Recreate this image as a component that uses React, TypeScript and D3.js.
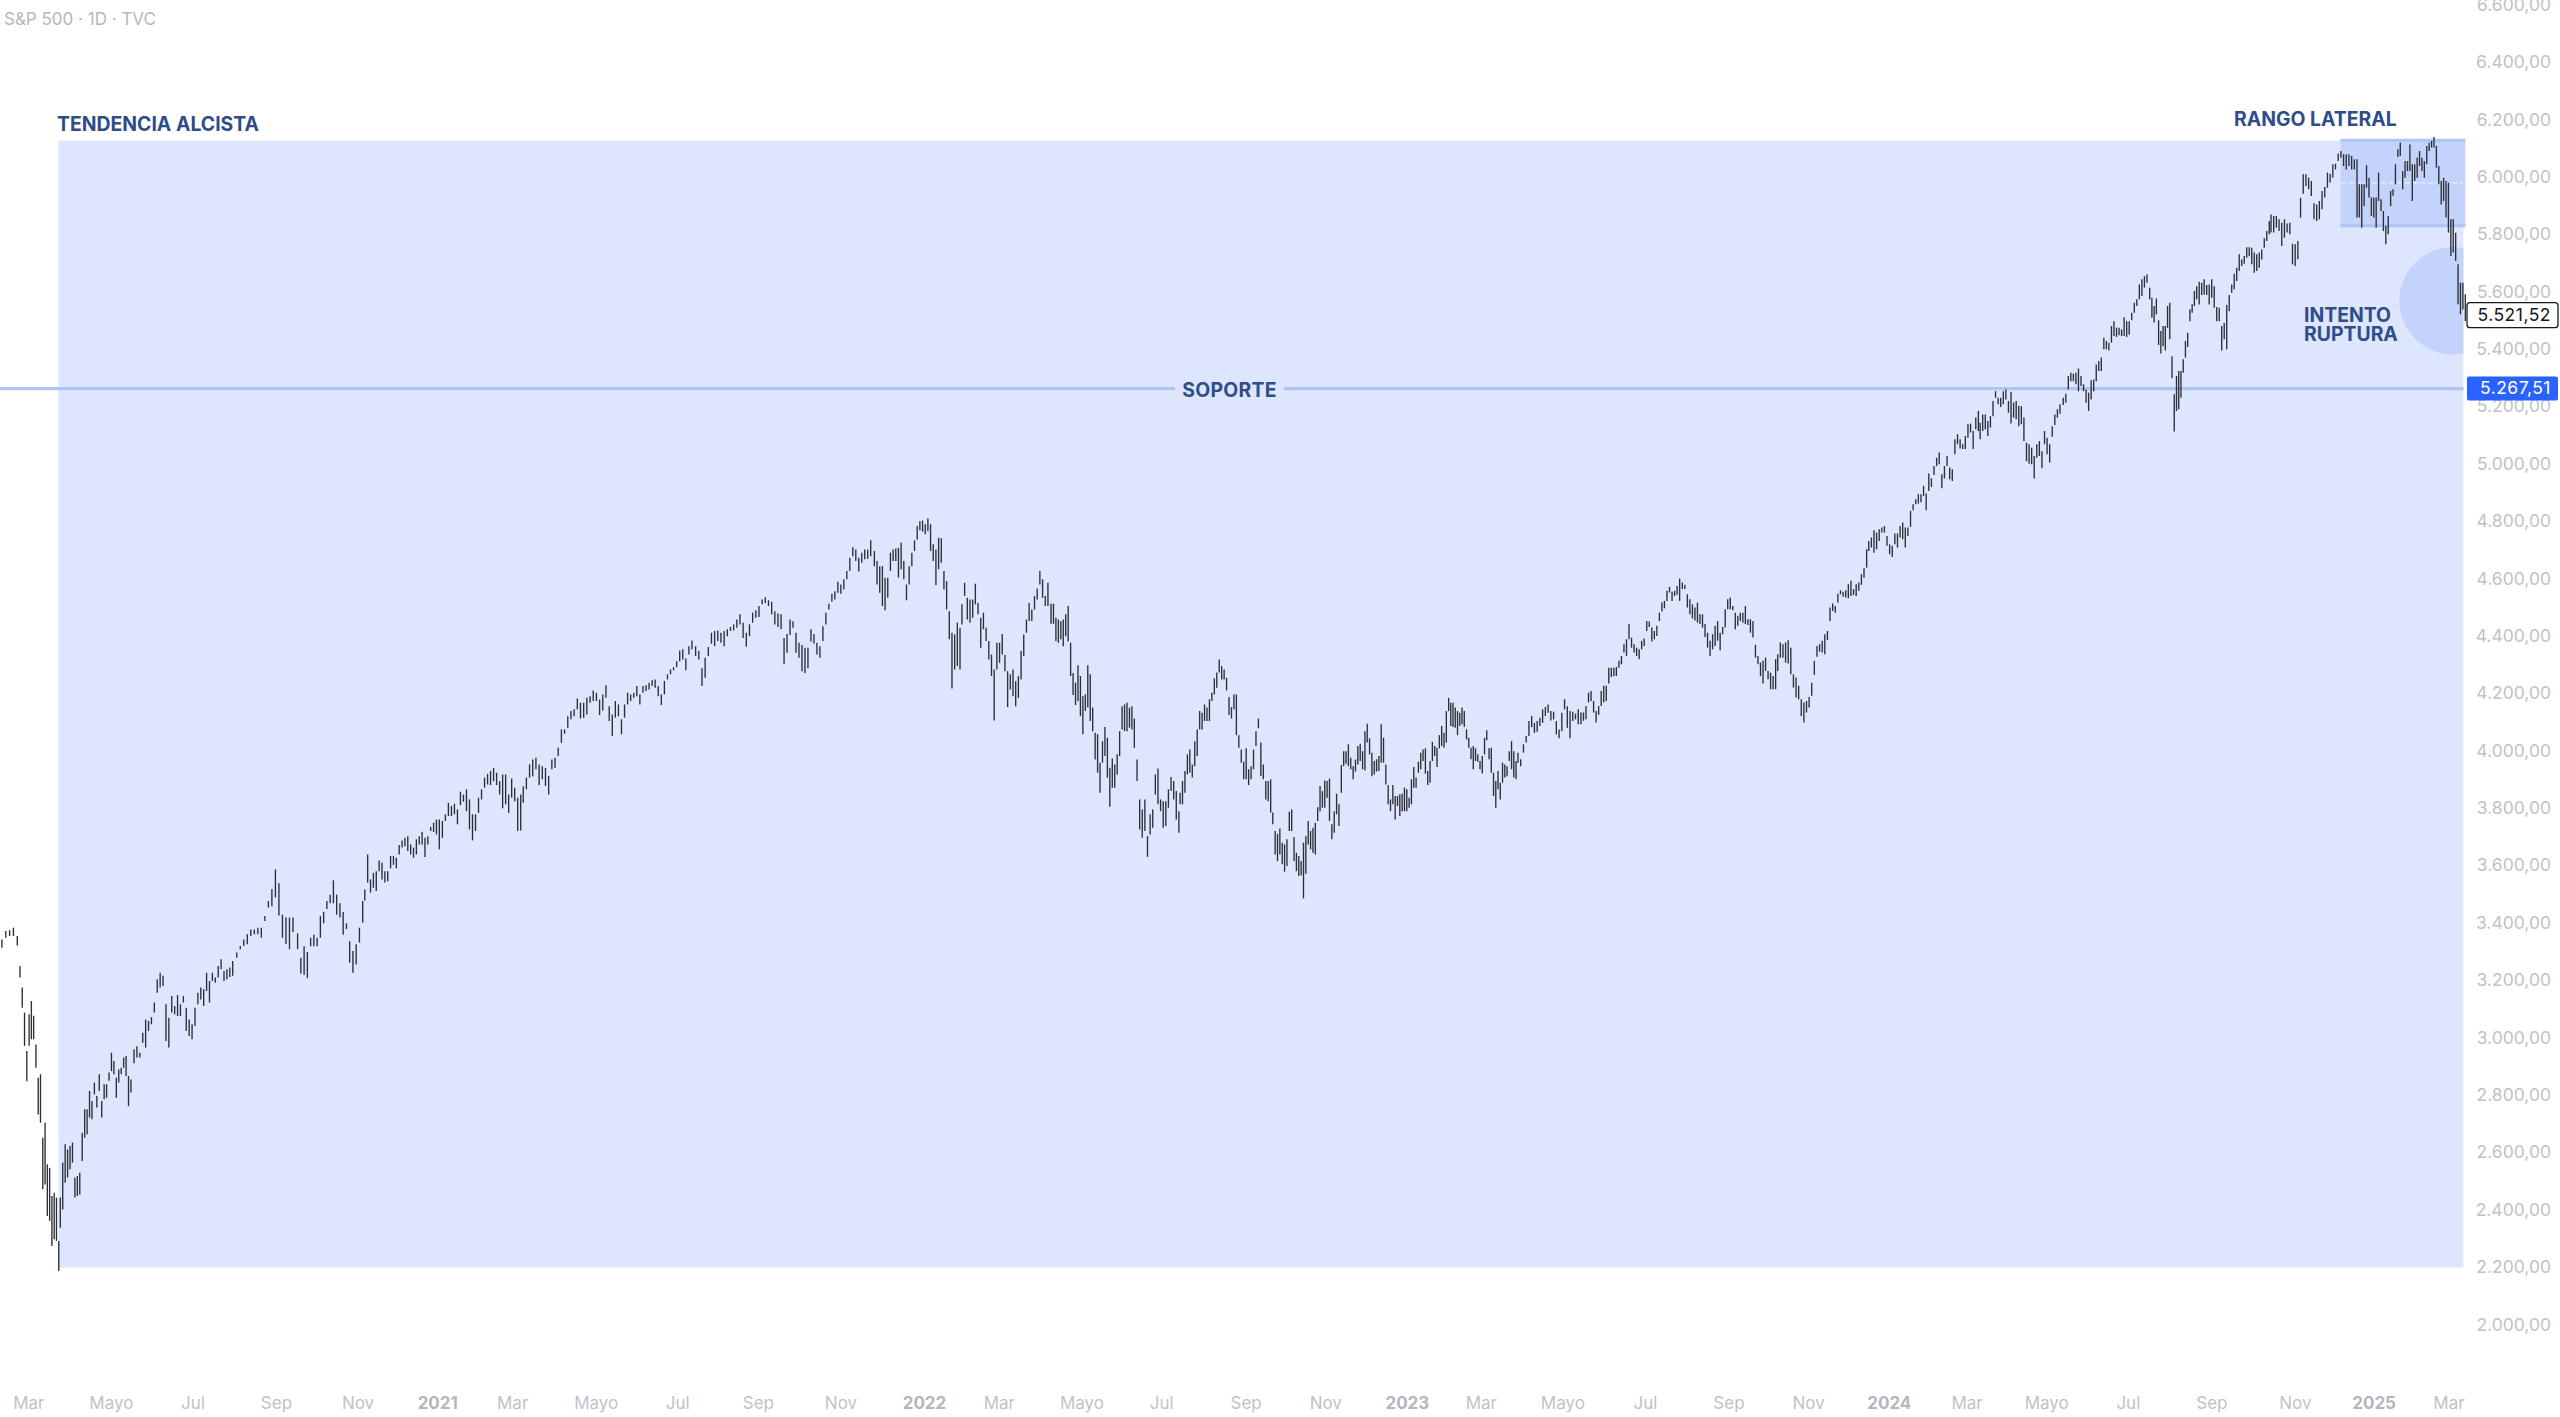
import * as d3 from "d3";

type Bar = [number, number]; // high, low

// ── Price bars ─────────────────────────────────────────────

const feb2020: Bar[] = [[3344,3315],[3373,3350],[3376,3356],[3385,3356],[3356,3323]];
const febMar2020: Bar[] = [[3251,3211],[3176,3106],[3089,2973],[2955,2850],[3083,2973],[3129,2996],[3078,2996],[2978,2897],[2862,2734],[2874,2705],[2653,2473],[2705,2490],[2560,2380],[2548,2363],[2450,2275],[2461,2299],[2444,2293],[2293,2188]];
const aprJun2020: Bar[] = [[2444,2339],[2566,2403],[2630,2496],[2612,2514],[2624,2543],[2636,2566],[2513,2444],[2519,2450],[2531,2455],[2670,2572],[2752,2653],[2752,2665],[2816,2723],[2781,2717],[2845,2804],[2798,2758],[2874,2816],[2781,2723],[2839,2787],[2839,2792],[2880,2851],[2949,2885],[2920,2874],[2862,2792],[2891,2845],[2897,2874],[2932,2897],[2938,2868],[2868,2763],[2856,2810]];
const junAug2020: Bar[] = [[2961,2912],[2972,2932],[2949,2932],[3019,2984],[3065,2967],[3060,3025],[3073,3048],[3124,3089],[3205,3158],[3228,3176],[3217,3182],[3118,2990],[3071,2967],[3147,3089],[3112,3083],[3150,3077],[3118,3077],[3147,3124],[3106,3025],[3065,3007],[3048,2996],[3106,3042],[3158,3118],[3176,3135],[3170,3112],[3228,3164],[3199,3124],[3228,3199],[3211,3193],[3251,3211],[3275,3240],[3234,3199],[3240,3205],[3246,3213],[3269,3217]];
const augSep2020: Bar[] = [[3298,3280],[3321,3310],[3344,3321],[3362,3327],[3379,3356],[3379,3362],[3385,3362],[3385,3350],[3426,3408],[3478,3455],[3520,3460],[3588,3490],[3540,3427],[3430,3350],[3420,3328],[3420,3310],[3420,3370]];
const sepNov2020: Bar[] = [[3365,3310],[3280,3225],[3320,3220],[3300,3209],[3350,3320],[3360,3320],[3350,3320],[3425,3350],[3440,3400],[3478,3450],[3500,3470],[3550,3470],[3500,3430],[3470,3420],[3440,3360],[3400,3380],[3338,3263],[3304,3228],[3327,3257],[3385,3333],[3478,3402]];
const novDec2020: Bar[] = [[3518,3480],[3640,3542],[3553,3507],[3576,3524],[3582,3513],[3619,3582],[3611,3553],[3582,3542],[3582,3547],[3635,3592],[3635,3604],[3629,3592],[3673,3640],[3689,3664],[3698,3669],[3704,3652],[3675,3640],[3664,3629],[3693,3640],[3704,3675],[3719,3675],[3698,3631],[3704,3675],[3737,3722],[3751,3719],[3762,3710],[3762,3658]];
const janMar2021: Bar[] = [[3757,3698],[3780,3757],[3820,3774],[3809,3774],[3817,3780],[3797,3745],[3859,3812],[3849,3824],[3867,3791],[3832,3727],[3780,3689],[3780,3722],[3838,3785],[3867,3832],[3908,3873],[3921,3884],[3931,3882],[3942,3896],[3925,3882],[3896,3849],[3919,3801],[3919,3815],[3849,3785],[3905,3838],[3873,3826],[3838,3722],[3849,3724]];
const marMay2021: Bar[] = [[3878,3820],[3908,3867],[3954,3908],[3971,3913],[3977,3937],[3954,3882],[3948,3902],[3942,3879],[3913,3849],[3971,3937],[3977,3942],[4012,3983],[4076,4029],[4076,4061],[4122,4082],[4140,4111],[4146,4122],[4184,4146],[4169,4114],[4169,4117],[4186,4128],[4192,4169],[4212,4175],[4204,4175],[4180,4126],[4198,4142],[4230,4186]];
const mayJul2021: Bar[] = [[4157,4105],[4128,4053],[4175,4117],[4163,4122],[4111,4059],[4163,4117],[4204,4163],[4198,4175],[4204,4186],[4227,4192],[4198,4163],[4227,4204],[4230,4210],[4239,4215],[4247,4227],[4250,4221],[4227,4192],[4198,4161],[4245,4198],[4268,4250],[4285,4268],[4293,4282],[4314,4293],[4351,4314],[4355,4320],[4323,4282],[4366,4337],[4386,4355]];
const julSep2021: Bar[] = [[4366,4332],[4349,4320],[4289,4227],[4326,4256],[4363,4332],[4413,4375],[4419,4366],[4421,4384],[4413,4378],[4419,4366],[4425,4401],[4433,4419],[4442,4421],[4459,4430],[4477,4442],[4448,4395],[4413,4364],[4442,4401],[4483,4448],[4491,4465],[4506,4468],[4529,4512],[4537,4517],[4526,4506],[4521,4477],[4488,4442],[4480,4433]];
const sepNov2021: Bar[] = [[4477,4425],[4395,4303],[4409,4343],[4459,4405],[4453,4430],[4413,4343],[4378,4326],[4370,4279],[4361,4273],[4361,4289],[4425,4382],[4409,4375],[4378,4337],[4366,4326],[4436,4384],[4483,4442],[4514,4494],[4549,4521],[4558,4529],[4591,4552],[4581,4549],[4599,4564],[4628,4599],[4674,4628],[4711,4680],[4703,4663],[4674,4626],[4692,4657],[4703,4669],[4703,4671],[4735,4680]];
const novJan2022: Bar[] = [[4698,4645],[4663,4581],[4645,4552],[4645,4506],[4605,4491],[4605,4535],[4692,4628],[4703,4663],[4707,4663],[4709,4605],[4727,4634],[4663,4599],[4581,4526],[4645,4581],[4692,4645],[4735,4698],[4785,4738],[4802,4770],[4804,4765],[4791,4756],[4811,4767],[4791,4698],[4721,4663],[4703,4579],[4744,4634],[4742,4657],[4628,4564],[4593,4494],[4488,4390],[4413,4219],[4407,4285],[4448,4297],[4430,4285]];
const febMar2022: Bar[] = [[4512,4442],[4587,4541],[4535,4459],[4529,4448],[4529,4465],[4584,4512],[4517,4477],[4465,4361],[4483,4425],[4430,4384],[4384,4320],[4337,4262],[4285,4107],[4378,4285],[4378,4308],[4409,4337],[4335,4279],[4279,4154],[4268,4215],[4285,4192],[4244,4157],[4262,4186],[4349,4250],[4407,4332],[4459,4413],[4517,4454],[4494,4454],[4541,4494],[4567,4529],[4628,4581],[4599,4535],[4541,4506],[4587,4506]];
const aprJun2022: Bar[] = [[4514,4444],[4514,4444],[4465,4384],[4459,4378],[4453,4390],[4459,4366],[4477,4401],[4506,4382],[4378,4262],[4273,4196],[4239,4161],[4300,4175],[4262,4122],[4192,4059],[4198,4140],[4300,4152],[4268,4105],[4152,4070],[4064,3971],[4059,3925],[3960,3855],[4035,3960],[4084,3983],[4047,3908],[3942,3806],[3975,3873],[3954,3873],[3989,3919],[4070,3983],[4157,4076],[4163,4070],[4169,4070],[4152,4082],[4157,4076],[4114,4012]];
const junJul2022: Bar[] = [[3971,3896],[3832,3727],[3797,3698],[3832,3722],[3704,3632],[3780,3710],[3797,3733],[3919,3849],[3940,3815],[3832,3791],[3826,3733],[3826,3739],[3867,3803],[3910,3861],[3896,3832],[3861,3762],[3791,3716]];
const julSep2022: Bar[] = [[3855,3815],[3896,3815],[3931,3855],[3989,3919],[4006,3925],[3954,3908],[4035,3948],[4076,3983],[4140,4076],[4134,4076],[4163,4105],[4152,4105],[4181,4105],[4204,4175],[4254,4198],[4274,4221],[4320,4274],[4297,4250],[4285,4250],[4256,4212],[4189,4126],[4154,4114],[4198,4146],[4198,4056],[4056,4012],[4006,3960],[3963,3902],[4010,3902],[3937,3882],[3948,3902],[4006,3937],[4070,4018],[4114,4080],[4030,3914],[3954,3902],[3896,3832],[3896,3826],[3902,3786]];
const sepNov2022: Bar[] = [[3786,3745],[3722,3640],[3712,3617],[3731,3640],[3681,3606],[3675,3580],[3693,3600],[3789,3722],[3797,3722],[3701,3617],[3646,3582],[3635,3565],[3617,3568],[3681,3487],[3704,3573],[3757,3675],[3722,3658],[3733,3646],[3751,3640],[3805,3757],[3879,3791],[3861,3803],[3898,3803],[3896,3838],[3905,3757],[3745,3693],[3791,3716],[3852,3780],[3815,3739],[3952,3855],[4000,3948],[4000,3956],[4024,3948],[3977,3937],[3948,3902],[3971,3929],[4018,3954],[4026,3966],[4000,3937],[4070,3933]];
const decFeb2023: Bar[] = [[4096,4030],[4045,3989],[3995,3913],[3966,3919],[3972,3929],[3983,3931],[4094,3960],[4047,3960],[3954,3884],[3882,3815],[3832,3791],[3882,3815],[3844,3762],[3844,3809],[3850,3774],[3852,3791],[3873,3791],[3867,3791],[3838,3803],[3902,3815],[3945,3873],[3908,3873],[3963,3925],[3995,3937],[4006,3966],[4010,3922],[3931,3882],[3966,3890],[4033,3966],[4018,3983],[4012,3945],[4056,4010],[4088,4018],[4064,4012],[4140,4030],[4186,4140]];
const febMar2023: Bar[] = [[4169,4088],[4169,4084],[4152,4082],[4140,4056],[4134,4088],[4152,4094],[4140,4084],[4076,4041],[4047,4012],[4012,3972],[4018,3937],[4010,3966],[3989,3963],[3966,3937],[3983,3922],[4047,3989],[4073,4038],[4010,3972],[4012,3925],[3925,3844],[3896,3803],[3931,3867],[3890,3832],[3960,3890],[3954,3908],[3948,3913],[4000,3966],[4035,3937],[4000,3908],[3966,3902]];
const aprMay2023: Bar[] = [[3995,3960],[3972,3948],[4024,3995],[4053,4030],[4105,4053],[4123,4084],[4099,4064],[4105,4068],[4117,4088],[4146,4099],[4154,4123],[4163,4134],[4140,4107],[4138,4111],[4105,4059],[4076,4045],[4134,4070],[4181,4146],[4157,4082],[4140,4045],[4138,4105],[4131,4111],[4146,4094]];
const mayJul2023: Bar[] = [[4135,4094],[4135,4106],[4158,4111],[4204,4170],[4210,4175],[4175,4135],[4140,4100],[4158,4127],[4210,4158],[4228,4170],[4228,4175],[4291,4236],[4291,4259],[4291,4262],[4294,4262],[4315,4291],[4332,4303],[4373,4344],[4390,4332],[4443,4390],[4396,4361],[4373,4344],[4361,4332],[4355,4321],[4385,4355],[4393,4367],[4454,4419],[4452,4433],[4431,4382],[4419,4390],[4437,4402],[4483,4454],[4518,4487],[4524,4498],[4559,4524],[4573,4553],[4556,4524],[4559,4541],[4576,4545],[4602,4524]];
const augOct2023: Bar[] = [[4588,4565],[4580,4565],[4547,4501],[4530,4477],[4512,4463],[4501,4456],[4518,4448],[4477,4443],[4477,4431],[4443,4398],[4413,4361],[4385,4332],[4408,4355],[4437,4367],[4454,4385],[4413,4352],[4433,4408],[4495,4431],[4530,4495],[4536,4495],[4506,4491],[4483,4425],[4472,4437],[4483,4454],[4483,4448],[4506,4443],[4460,4440],[4460,4413],[4454,4396],[4371,4326],[4332,4303],[4309,4262],[4315,4236],[4326,4280],[4280,4251],[4274,4216],[4262,4216],[4321,4216]];
const octNov2023: Bar[] = [[4338,4280],[4379,4326],[4373,4326],[4379,4309],[4387,4306],[4361,4268],[4268,4222],[4257,4187],[4228,4181],[4181,4123],[4170,4100],[4175,4135],[4189,4152],[4239,4193],[4315,4266],[4367,4329],[4373,4347],[4385,4344],[4408,4338],[4419,4387],[4501,4454],[4515,4489],[4506,4483],[4549,4518],[4561,4547],[4556,4538],[4561,4536],[4582,4533],[4594,4541],[4565,4545],[4582,4541],[4588,4559],[4617,4580],[4638,4605],[4704,4640]];
const decMar2024: Bar[] = [[4733,4698],[4745,4710],[4770,4692],[4762,4704],[4774,4733],[4780,4762],[4785,4762],[4750,4716],[4721,4687],[4716,4677],[4759,4721],[4759,4710],[4785,4745],[4797,4739],[4780,4710],[4780,4750],[4838,4782],[4861,4840],[4878,4861],[4896,4863],[4896,4868],[4925,4890],[4898,4840],[4968,4907],[4951,4921],[4994,4963],[5023,4994],[5041,5000],[4965,4917],[4994,4951],[5029,4994],[4989,4948],[4983,4942],[5087,5035],[5105,5070],[5087,5055],[5070,5053],[5099,5053],[5140,5093],[5142,5111],[5116,5053],[5163,5122],[5186,5116]];
const marMay2024: Bar[] = [[5145,5087],[5174,5116],[5174,5122],[5151,5099],[5168,5128],[5221,5168],[5255,5232],[5232,5209],[5232,5200],[5255,5209],[5261,5226],[5221,5180],[5253,5142],[5215,5163],[5221,5157],[5203,5133],[5203,5140],[5163,5081],[5075,5011],[5070,5002],[5058,5000],[5029,4951],[5070,5023],[5081,5029],[5046,4986],[5116,5070],[5093,5035],[5070,5006],[5133,5096],[5174,5137],[5192,5163],[5209,5176]];
const mayJul2024: Bar[] = [[5232,5207],[5246,5215],[5308,5261],[5319,5290],[5316,5290],[5319,5279],[5334,5255],[5308,5273],[5279,5255],[5261,5215],[5250,5186],[5293,5226],[5296,5255],[5348,5290],[5360,5325],[5372,5325],[5441,5401],[5430,5401],[5424,5397],[5482,5424],[5499,5447],[5476,5444],[5476,5450],[5470,5447],[5513,5447],[5499,5444],[5499,5452],[5528,5502],[5563,5528],[5575,5552],[5627,5575],[5645,5587],[5656,5616],[5662,5633]];
const julAug2024: Bar[] = [[5616,5575],[5581,5511],[5552,5494],[5578,5523],[5502,5416],[5465,5386],[5482,5412],[5482,5397],[5552,5476],[5563,5436],[5377,5300],[5244,5114],[5308,5186],[5325,5192],[5325,5232],[5366,5319],[5430,5372],[5459,5409],[5540,5499],[5558,5528],[5604,5552]];
const augNov2024: Bar[] = [[5621,5575],[5636,5557],[5633,5590],[5645,5592],[5625,5590],[5627,5557],[5645,5581],[5621,5546],[5548,5499],[5546,5499],[5482,5397],[5493,5436],[5555,5401],[5590,5534],[5627,5598],[5664,5610],[5685,5639],[5732,5674],[5714,5691],[5726,5699],[5757,5720],[5757,5725],[5755,5697],[5738,5668],[5732,5674],[5738,5685],[5749,5714],[5788,5755],[5813,5778],[5848,5802]];
const octDec2024: Bar[] = [[5871,5808],[5866,5808],[5866,5825],[5854,5813],[5842,5761],[5854,5790],[5839,5808],[5842,5802],[5769,5697],[5767,5691],[5778,5715],[5929,5860],[6011,5943],[6011,5970],[5999,5959],[5988,5935],[5910,5854],[5906,5848],[5918,5854],[5953,5889],[5967,5930],[6017,5964],[6013,5982],[6046,5999],[6048,6028],[6083,6057],[6092,6069],[6081,6040],[6081,6028],[6081,6040],[6075,6028],[6063,6028],[6063,5860]];
const decMar2025: Bar[] = [[5976,5860],[5976,5825],[5976,5900],[6043,5964],[5999,5930],[5930,5866],[5930,5860],[5930,5825],[6017,5918],[5924,5883],[5883,5813],[5831,5767],[5866,5802],[5953,5900],[5959,5936],[6046,5976],[6098,6071],[6121,6075],[6022,5959],[6057,5999],[6057,6022],[6115,6022],[6046,5918],[6046,5988],[6069,5999],[6092,6040],[6069,6022],[6057,5999],[6110,6046],[6121,6092],[6127,6104],[6141,6104],[6110,6034],[6040,5976],[5988,5906],[5999,5918],[5988,5860],[5982,5808],[5854,5726],[5854,5738],[5807,5709],[5697,5558],[5633,5523],[5633,5540],[5593,5500]];

// every piece with its first and last session number
const barPieces: [Bar[], number, number][] = [
  [feb2020, 1, 9], [febMar2020, 10.4, 30.6], [aprJun2020, 31.4, 68.2], [junAug2020, 69.8, 121.2],
  [augSep2020, 123.3, 152.6], [sepNov2020, 155, 188.9], [novDec2020, 190, 228.8],
  [janMar2021, 230.4, 271.2], [marMay2021, 272.5, 315.6], [mayJul2021, 317.3, 360.4],
  [julSep2021, 362.3, 405.2], [sepNov2021, 406.8, 453.5], [novJan2022, 455.4, 500],
  [febMar2022, 501, 545.8], [aprJun2022, 547.4, 590.8], [junJul2022, 592.2, 614],
  [julSep2022, 614.6, 661.8], [sepNov2022, 662.9, 710.9], [decFeb2023, 712.1, 754.5],
  [febMar2023, 755.6, 789.6], [aprMay2023, 790.6, 822], [mayJul2023, 823.4, 874.8],
  [augOct2023, 876.2, 924.8], [octNov2023, 925.9, 972.2], [decMar2024, 973.3, 1030.4],
  [marMay2024, 1031.3, 1072.9], [mayJul2024, 1074.6, 1118.2], [julAug2024, 1119.6, 1142.9],
  [augNov2024, 1144.1, 1181.9], [octDec2024, 1182.8, 1227.6], [decMar2025, 1228.8, 1284],
];

// ── Axes and levels ────────────────────────────────────────

const priceTicks = d3.range(2000, 6601, 200);
const timeLabels = ["Mar", "Mayo", "Jul", "Sep", "Nov", "2021", "Mar", "Mayo", "Jul", "Sep", "Nov", "2022", "Mar", "Mayo", "Jul", "Sep", "Nov", "2023", "Mar", "Mayo", "Jul", "Sep", "Nov", "2024", "Mar", "Mayo", "Jul", "Sep", "Nov", "2025", "Mar"];
const timeSessions = [15, 58, 100.5, 144, 186.5, 228, 267, 310.5, 353, 395, 438, 481.5, 520.5, 563.5, 605, 649, 690.5, 733, 771.5, 814, 857, 900.5, 942, 984, 1024.5, 1066, 1108.5, 1152, 1195.5, 1236.5, 1275.5];

const lastPrice = 5521.52;
const supportPrice = 5267.51;
const trendTop = 6128;
const trendBottom = 2200;
const rangeTop = 6130;
const rangeBottom = 5832;
const breakPrice = 5570;

const FONT = "Inter, 'Noto Sans', sans-serif";
const NAVY = "#2f4d88";
const TREND_FILL = "#dee6fd";
const SOFT_FILL = "#c3d3fb";
const LINE_BLUE = "#aec3f6";
const AXIS_GREY = "#bfc2c8";

const x = d3.scaleLinear().domain([0, 1284]).range([0, 2465.3]);
const y = d3.scaleLinear().domain([2000, 6600]).range([1325, 5.3]);
const priceLocale = d3.formatLocale({ decimal: ",", thousands: ".", grouping: [3], currency: ["", ""] });
const fmtPrice = priceLocale.format(",.2f");

const trendLeft = x(30.4);
const plotRight = x(1283);
const rangeLeft = x(1219);
const circleX = x(1277.6);

const bars = barPieces.flatMap(([list, from, to]) => {
  const session = d3.scaleLinear().domain([0, list.length - 1]).range([from, to]);
  return list.map(([high, low], i) => ({ s: session(i), high, low }));
});

export default function App() {
  return (
    <div style={{ position: "absolute", left: 0, top: 0, width: 2560, height: 1417, overflow: "hidden", background: "#fff" }}>
      <svg width={2560} height={1417} style={{ display: "block", fontFamily: FONT }}>
        <defs>
          <clipPath id="plot-clip">
            <rect x={0} y={0} width={plotRight} height={1417} />
          </clipPath>
        </defs>

        {/* Uptrend block */}
        <rect x={trendLeft} y={y(trendTop)} width={plotRight - trendLeft} height={y(trendBottom) - y(trendTop)} fill={TREND_FILL} />

        {/* Sideways range */}
        <rect x={rangeLeft} y={y(rangeTop)} width={plotRight + 2 - rangeLeft} height={y(rangeBottom) - y(rangeTop)} fill={SOFT_FILL} />
        <line x1={rangeLeft} x2={plotRight + 2} y1={y(rangeTop)} y2={y(rangeTop)} stroke={LINE_BLUE} strokeWidth={3} />
        <line x1={rangeLeft} x2={plotRight + 2} y1={y(rangeBottom)} y2={y(rangeBottom)} stroke={LINE_BLUE} strokeWidth={3} />
        <line
          x1={rangeLeft}
          x2={plotRight}
          y1={y((rangeTop + rangeBottom) / 2)}
          y2={y((rangeTop + rangeBottom) / 2)}
          stroke="#fff"
          strokeOpacity={0.85}
          strokeDasharray="5 3"
        />

        {/* Break attempt */}
        <circle cx={circleX} cy={y(breakPrice)} r={53.7} fill={SOFT_FILL} clipPath="url(#plot-clip)" />

        {/* Support line with its gap for the label */}
        <g transform="translate(0,1)" stroke={LINE_BLUE} strokeWidth={3.4}>
          <line x1={0} x2={1175} y1={y(supportPrice)} y2={y(supportPrice)} />
          <line x1={1284} x2={plotRight} y1={y(supportPrice)} y2={y(supportPrice)} />
        </g>

        {/* Bars */}
        <g stroke="#2c2e36" strokeWidth={1.35}>
          {bars.map((b, i) => (
            <line key={i} x1={x(b.s)} x2={x(b.s)} y1={y(b.high)} y2={y(b.low)} />
          ))}
        </g>

        {/* Annotations */}
        <g fill={NAVY} fontSize={19.4} fontWeight={700}>
          <text x={57} y={130.5}>TENDENCIA ALCISTA</text>
          <text x={2234} y={125.5}>RANGO LATERAL</text>
          <text x={2304} y={321.5}>INTENTO</text>
          <text x={2304} y={340.5}>RUPTURA</text>
          <text x={1229.5} y={397} textAnchor="middle" letterSpacing={0.3}>SOPORTE</text>
        </g>

        <text x={4} y={25} fontSize={17} fill="#b4b7bd">S&amp;P 500 · 1D · TVC</text>

        {/* Price axis */}
        <g fill={AXIS_GREY} fontSize={17.5} textAnchor="end">
          {priceTicks.map((p) => (
            <text key={p} x={2551} y={y(p) + 5.5}>{fmtPrice(p)}</text>
          ))}
        </g>

        {/* Price tags */}
        <rect x={2467} y={y(lastPrice) - 12} width={91} height={25} rx={3} fill="#fff" stroke="#1a1a1a" strokeWidth={1.3} />
        <text x={2551} y={y(lastPrice) + 6.5} fontSize={17.5} textAnchor="end" letterSpacing={0.5} fill="#131722">{fmtPrice(lastPrice)}</text>
        <rect x={2467} y={y(supportPrice) - 11} width={91} height={24} rx={2} fill="#2962ff" />
        <text x={2551} y={y(supportPrice) + 6.5} fontSize={17.5} textAnchor="end" letterSpacing={0.5} fill="#fff">{fmtPrice(supportPrice)}</text>

        {/* Time axis */}
        <g fontSize={17} textAnchor="middle">
          {timeLabels.map((label, i) => {
            const isYear = /^\d+$/.test(label);
            return (
              <text
                key={i}
                x={x(timeSessions[i])}
                y={1409}
                fill={isYear ? "#b3b6bd" : AXIS_GREY}
                fontWeight={isYear ? 700 : 400}
              >
                {label}
              </text>
            );
          })}
        </g>
      </svg>
    </div>
  );
}
